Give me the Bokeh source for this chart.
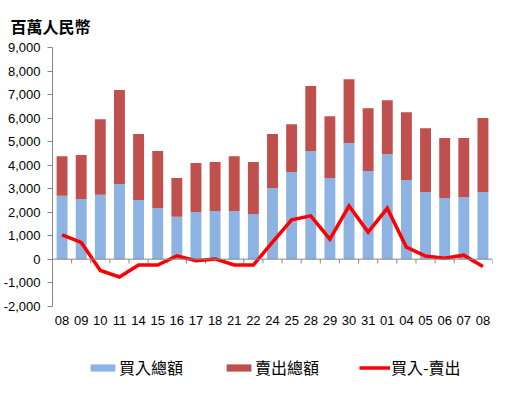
from bokeh.plotting import figure
from bokeh.models import ColumnDataSource, FixedTicker, Span, Legend, LegendItem, Title, NumeralTickFormatter
from bokeh.core.properties import value
from bokeh.embed import file_html
from bokeh.resources import INLINE

dates = ["08", "09", "10", "11", "14", "15", "16", "17", "18", "21", "22", "24",
         "25", "28", "29", "30", "31", "01", "04", "05", "06", "07", "08"]
buy = [2700, 2560, 2740, 3200, 2520, 2180, 1800, 2010, 2050, 2050, 1920, 3030,
       3710, 4600, 3450, 4940, 3750, 4470, 3370, 2860, 2600, 2640, 2860]
sell = [1680, 1870, 3210, 3990, 2800, 2420, 1650, 2080, 2080, 2330, 2210, 2290,
        2030, 2760, 2630, 2710, 2670, 2290, 2880, 2710, 2550, 2510, 3140]
net = [1030, 710, -480, -760, -250, -250, 140, -70, 10, -250, -250, 720,
       1670, 1840, 850, 2260, 1150, 2160, 510, 130, 40, 170, -310]
y_ticks = list(range(-2000, 9001, 1000))
y_min, y_max = -2000, 9000

n = len(dates)
xs = list(range(n))
src = ColumnDataSource(dict(x=xs, buy=buy, sell=sell, net=net, lab=dates,
                            ylab=[y_min] * n))

# frame extends below the axis range so labels and legend sit inside it
p = figure(width=500, height=380, output_backend="svg", toolbar_location=None,
           x_range=(-0.5, n - 0.5), y_range=(-5160, y_max),
           min_border_left=46, min_border_right=8, min_border_top=47, min_border_bottom=0)
p.outline_line_color = None
p.grid.visible = False
p.xaxis.visible = False

bars = p.vbar_stack(["buy", "sell"], x="x", width=0.57, color=["#8DB3E2", "#C0504D"],
                    line_color=None, source=src)

p.add_layout(Span(location=0, dimension="width", line_color="#868686", line_width=1))
bounds = [i + 0.5 for i in range(n)]
p.segment(x0=bounds, y0=[0] * n, x1=bounds, y1=[-180] * n, line_color="#868686", line_width=1)

ln = p.line(x="x", y="net", source=src, line_color="#FF0000", line_width=3.5, line_join="miter")

# category labels
p.text(x="x", y="ylab", text="lab", source=src, text_align="center", text_baseline="top",
       y_offset=10, text_font=value("Liberation Sans"), text_font_size="13px", text_color="#000000")

# y axis
p.yaxis.bounds = (y_min, y_max)
p.yaxis.ticker = FixedTicker(ticks=y_ticks)
p.yaxis.formatter = NumeralTickFormatter(format="0,0")
p.yaxis.axis_line_color = "#868686"
p.yaxis.major_tick_line_color = "#868686"
p.yaxis.major_tick_out = 5
p.yaxis.major_tick_in = 0
p.yaxis.minor_tick_line_color = None
p.yaxis.major_label_standoff = 7
p.yaxis.major_label_text_font = "Liberation Sans"
p.yaxis.major_label_text_font_size = "13px"
p.yaxis.major_label_text_color = "#000000"

legend = Legend(items=[LegendItem(label="買入總額", renderers=[bars[0]]),
                       LegendItem(label="賣出總額", renderers=[bars[1]]),
                       LegendItem(label="買入-賣出", renderers=[ln])],
                orientation="horizontal", location=(35, 1),
                glyph_width=31, glyph_height=9, label_standoff=1, spacing=40,
                label_text_font="Noto Sans CJK TC", label_text_font_size="16px",
                label_text_color="#000000",
                border_line_color=None, background_fill_alpha=0, padding=0, margin=0)
p.add_layout(legend, "center")

p.title = Title(text="百萬人民幣", text_font="Noto Sans CJK TC", text_font_size="16px",
                text_font_style="bold", text_color="#000000", align="left", offset=-42,
                vertical_align="middle", standoff=17)

open("out.html", "w").write(file_html(p, INLINE))
